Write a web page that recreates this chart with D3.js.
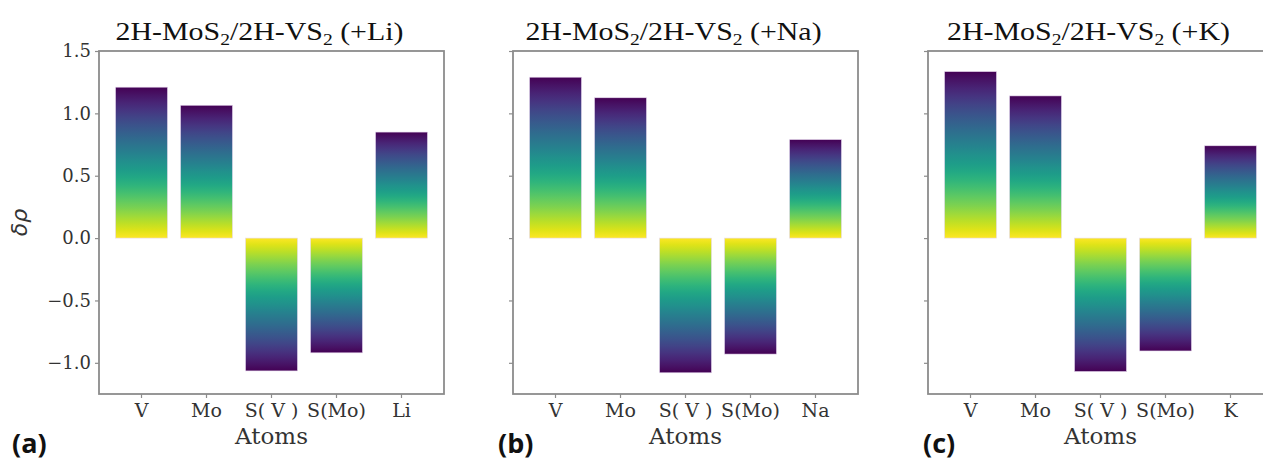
<!DOCTYPE html>
<html>
<head>
<meta charset="utf-8">
<script src="https://cdn.jsdelivr.net/npm/d3@7"></script>
<style>
  body { margin: 0; background: #fff; }
  svg { display: block; }
</style>
</head>
<body>
<div id="chart"></div>
<script>
const atoms = ["V", "Mo", "S( V )", "S(Mo)"];
const ions = ["Li", "Na", "K"];
const panelLetters = ["(a)", "(b)", "(c)"];
const valuesLi = [1.21, 1.065, -1.065, -0.92, 0.85];
const valuesNa = [1.29, 1.125, -1.08, -0.93, 0.79];
const valuesK = [1.335, 1.14, -1.07, -0.905, 0.74];
const yTicks = [-1.0, -0.5, 0.0, 0.5, 1.0, 1.5];
const allValues = [valuesLi, valuesNa, valuesK];

const width = 1263, height = 464;
const svg = d3.select("#chart").append("svg")
  .attr("width", width)
  .attr("height", height);

const defs = svg.append("defs");

// shared y scale
const y = d3.scaleLinear().domain([-1.25, 1.5]).range([394, 51]);

const plotW = 345;
const lefts = [99, 513, 928];
const letterX = [12, 498, 923];

allValues.forEach((vals, p) => {
  const cats = atoms.concat([ions[p]]);
  const x = d3.scaleBand()
    .domain(cats)
    .range([0, plotW])
    .paddingInner(0.2)
    .paddingOuter(0.254);

  const g = svg.append("g").attr("transform", `translate(${lefts[p]},0)`);

  // bars with viridis gradient (yellow at zero, purple at tip)
  vals.forEach((v, i) => {
    const id = `grad-${p}-${i}`;
    const grad = defs.append("linearGradient")
      .attr("id", id)
      .attr("x1", 0).attr("y1", 0).attr("x2", 0).attr("y2", 1);
    d3.range(0, 1.0001, 0.05).forEach(t => {
      grad.append("stop")
        .attr("offset", t)
        .attr("stop-color", d3.interpolateViridis(v >= 0 ? t : 1 - t));
    });
    g.append("rect")
      .attr("x", x(cats[i]))
      .attr("width", x.bandwidth())
      .attr("y", y(Math.max(0, v)))
      .attr("height", Math.abs(y(v) - y(0)))
      .attr("fill", `url(#${id})`)
      .attr("stroke", "#e6d9ef")
      .attr("stroke-width", 0.6);
  });

  // box
  g.append("rect")
    .attr("x", 0).attr("y", y.range()[1])
    .attr("width", plotW)
    .attr("height", y.range()[0] - y.range()[1])
    .attr("fill", "none")
    .attr("stroke", "#8c8c8c")
    .attr("stroke-width", 1.8);

  // y axis
  const yAxis = d3.axisLeft(y).tickValues(yTicks).tickSize(4)
    .tickFormat(p === 0 ? (d => d3.format(".1f")(d).replace("-", "\u2212")) : "");
  const ya = g.append("g").call(yAxis);
  ya.select(".domain").remove();
  ya.selectAll(".tick line").attr("stroke", "#8c8c8c").attr("stroke-width", 1.2);
  ya.selectAll(".tick text")
    .attr("font-family", "DejaVu Serif")
    .attr("font-size", 18)
    .attr("fill", "#333")
    .attr("dx", -1);

  // x axis
  const xAxis = d3.axisBottom(x).tickSize(4);
  const xa = g.append("g").attr("transform", `translate(0,${y.range()[0]})`).call(xAxis);
  xa.select(".domain").remove();
  xa.selectAll(".tick line").attr("stroke", "#8c8c8c").attr("stroke-width", 1.2);
  xa.selectAll(".tick text")
    .attr("font-family", "DejaVu Serif")
    .attr("font-size", 19)
    .attr("fill", "#333")
    .attr("dy", "0.82em");

  // x label
  g.append("text")
    .attr("x", plotW / 2)
    .attr("y", 444)
    .attr("text-anchor", "middle")
    .attr("font-family", "DejaVu Serif")
    .attr("font-size", 23)
    .attr("fill", "#333")
    .text("Atoms");

  // title (slightly stretched horizontally, as in the figure)
  const title = g.append("text")
    .attr("transform", `translate(${plotW / 2 - 12},40) scale(1.15,1)`)
    .attr("text-anchor", "middle")
    .attr("font-family", "Liberation Serif")
    .attr("font-size", 26)
    .attr("fill", "#111");
  title.append("tspan").text("2H-MoS");
  title.append("tspan").attr("font-size", 17).attr("dy", 5).text("2");
  title.append("tspan").attr("dy", -5).text("/2H-VS");
  title.append("tspan").attr("font-size", 17).attr("dy", 5).text("2");
  title.append("tspan").attr("dy", -5).text(` (+${ions[p]})`);

  // panel letter
  svg.append("text")
    .attr("x", letterX[p])
    .attr("y", 453)
    .attr("font-family", "Open Sans, Liberation Sans, sans-serif")
    .attr("font-weight", "bold")
    .attr("font-size", 27)
    .attr("fill", "#111")
    .text(panelLetters[p]);
});

// y label
svg.append("text")
  .attr("transform", `translate(27,${y(0.125)}) rotate(-90)`)
  .attr("text-anchor", "middle")
  .attr("font-family", "DejaVu Sans")
  .attr("font-style", "italic")
  .attr("font-size", 22)
  .attr("fill", "#333")
  .text("\u03b4\u03c1");
</script>
</body>
</html>
